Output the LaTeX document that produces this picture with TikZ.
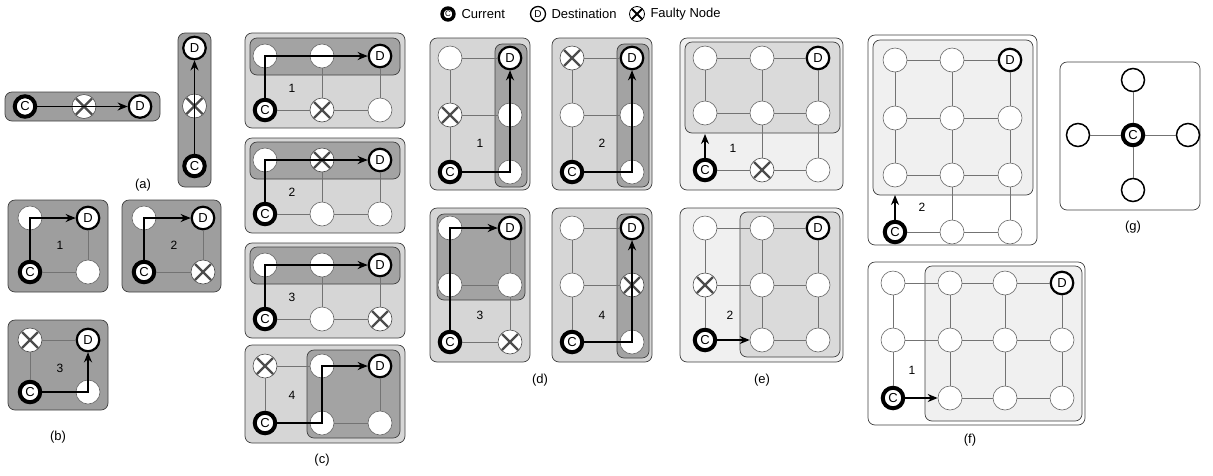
\documentclass[tikz,border=0pt]{standalone}
\usepackage{fontspec}
\setmainfont{Liberation Sans}
\usetikzlibrary{arrows.meta}
\definecolor{abox}{RGB}{158,158,158}
\definecolor{clight}{RGB}{214,214,214}
\definecolor{cdark}{RGB}{163,163,163}
\definecolor{eout}{RGB}{240,240,240}
\definecolor{ein}{RGB}{218,218,218}
\definecolor{fin}{RGB}{240,240,240}
\tikzset{
 pn/.style={circle, draw=black!60, fill=white, line width=0.6pt, minimum size=24pt, inner sep=0pt},
 cn/.style={circle, draw=black, fill=white, line width=4pt, minimum size=20.5pt, inner sep=0pt, font=\fontsize{13}{13}\selectfont},
 dn/.style={circle, draw=black, fill=white, line width=2.2pt, minimum size=22.5pt, inner sep=0pt, font=\fontsize{13}{13}\selectfont},
 xn/.style={pn, draw=black!70, path picture={\draw[line width=2.4pt]
   ([shift={(-8pt,-8pt)}]path picture bounding box.center) -- ([shift={(8pt,8pt)}]path picture bounding box.center)
   ([shift={(-8pt,8pt)}]path picture bounding box.center) -- ([shift={(8pt,-8pt)}]path picture bounding box.center);}},
 gn/.style={circle, draw=black, fill=white, line width=1.5pt, minimum size=23pt, inner sep=0pt},
 lnk/.style={draw=black!55, line width=0.6pt},
 arr/.style={-{Stealth[length=10pt,width=8pt]}, line width=1.7pt},
 bx/.style={rounded corners=7pt, draw=black!75, line width=0.7pt},
 lab/.style={font=\fontsize{13}{15}\selectfont},
 num/.style={font=\fontsize{12}{14}\selectfont},
 lgt/.style={anchor=west, font=\fontsize{13}{15}\selectfont},
 lgc/.style={circle, draw=black, fill=white, line width=3.4pt, minimum size=12pt, inner sep=0pt, font=\fontsize{8}{8}\selectfont},
 lgd/.style={circle, draw=black, fill=white, line width=1.3pt, minimum size=15pt, inner sep=0pt, font=\fontsize{10}{10}\selectfont},
 lgx/.style={circle, draw=black, fill=white, line width=0.8pt, minimum size=15pt, inner sep=0pt, path picture={\draw[line width=1.8pt]
   ([shift={(-6pt,-6pt)}]path picture bounding box.center) -- ([shift={(6pt,6pt)}]path picture bounding box.center)
   ([shift={(-6pt,6pt)}]path picture bounding box.center) -- ([shift={(6pt,-6pt)}]path picture bounding box.center);}},
}
\begin{document}
\begin{tikzpicture}[x=1pt,y=-1pt]
\useasboundingbox (0,0) rectangle (1213,475);

% legend
\node[lgc] (lc) at (448,14) {C};
\node[lgt] (lct) at (458,14) {Current};
\node[lgd] (ld) at (538,14) {D};
\node[lgt] (ldt) at (548,14) {Destination};
\node[lgx] (lx) at (637,14) {};
\node[lgt] (lxt) at (647,14) {Faulty Node};

% (a)
\filldraw[bx, fill=abox] (5,92) rectangle (160,121);
\node[cn] (ahc) at (25,106.5) {C};
\node[xn] (ahx) at (84,106.5) {};
\node[dn] (ahd) at (140,106.5) {D};
\draw[arr] (ahc) -- (ahd);
\filldraw[bx, fill=abox] (178,33) rectangle (211,187);
\node[dn] (avd) at (194.5,48) {D};
\node[xn] (avx) at (194.5,106) {};
\node[cn] (avc) at (194.5,166) {C};
\draw[arr] (avc) -- (avd);
\node[lab] (la) at (143,185) {(a)};

% (b)
\filldraw[bx, fill=abox] (8,200) rectangle (108,292);
\node[pn] (b1a) at (30,218) {};
\node[dn] (b1d) at (88,218) {D};
\node[cn] (b1c) at (30,272) {C};
\node[pn] (b1b) at (88,272) {};
\foreach \u/\v in {b1a/b1d,b1d/b1b,b1c/b1b,b1a/b1c} \draw[lnk] (\u) -- (\v);
\draw[arr] (b1c) |- (b1d);
\node[num] (b1n) at (60,245) {1};

\filldraw[bx, fill=abox] (122,200) rectangle (221,292);
\node[pn] (b2a) at (144,218) {};
\node[dn] (b2d) at (203,218) {D};
\node[cn] (b2c) at (144,272) {C};
\node[xn] (b2x) at (203,272) {};
\foreach \u/\v in {b2a/b2d,b2d/b2x,b2c/b2x,b2a/b2c} \draw[lnk] (\u) -- (\v);
\draw[arr] (b2c) |- (b2d);
\node[num] (b2n) at (174,245) {2};

\filldraw[bx, fill=abox] (8,320) rectangle (108,410);
\node[xn] (b3x) at (30,340) {};
\node[dn] (b3d) at (88,340) {D};
\node[cn] (b3c) at (30,392) {C};
\node[pn] (b3b) at (88,392) {};
\foreach \u/\v in {b3x/b3d,b3d/b3b,b3c/b3b,b3x/b3c} \draw[lnk] (\u) -- (\v);
\draw[arr] (b3c) -| (b3d);
\node[num] (b3n) at (60,368) {3};
\node[lab] (lb) at (58,437) {(b)};

% (c)
\filldraw[bx, fill=clight] (245,33) rectangle (405,128);
\filldraw[bx, fill=cdark] (250,38) rectangle (400,75);
\node[pn] (c1a) at (265,56) {};
\node[pn] (c1b) at (322,56) {};
\node[dn] (c1d) at (380,56) {D};
\node[cn] (c1c) at (265,110) {C};
\node[xn] (c1x) at (322,110) {};
\node[pn] (c1e) at (380,110) {};
\foreach \u/\v in {c1a/c1b,c1b/c1d,c1c/c1x,c1x/c1e,c1a/c1c,c1b/c1x,c1d/c1e} \draw[lnk] (\u) -- (\v);
\draw[arr] (c1c) |- (c1d);
\node[num] (c1n) at (292,88) {1};

\filldraw[bx, fill=clight] (245,138) rectangle (405,233);
\filldraw[bx, fill=cdark] (250,142) rectangle (400,179);
\node[pn] (c2a) at (265,160) {};
\node[xn] (c2x) at (322,160) {};
\node[dn] (c2d) at (380,160) {D};
\node[cn] (c2c) at (265,214) {C};
\node[pn] (c2f) at (322,214) {};
\node[pn] (c2e) at (380,214) {};
\foreach \u/\v in {c2a/c2x,c2x/c2d,c2c/c2f,c2f/c2e,c2a/c2c,c2x/c2f,c2d/c2e} \draw[lnk] (\u) -- (\v);
\draw[arr] (c2c) |- (c2d);
\node[num] (c2n) at (292,192) {2};

\filldraw[bx, fill=clight] (245,243) rectangle (405,338);
\filldraw[bx, fill=cdark] (250,247) rectangle (400,284);
\node[pn] (c3a) at (265,265) {};
\node[pn] (c3b) at (322,265) {};
\node[dn] (c3d) at (380,265) {D};
\node[cn] (c3c) at (265,319) {C};
\node[pn] (c3f) at (322,319) {};
\node[xn] (c3x) at (380,319) {};
\foreach \u/\v in {c3a/c3b,c3b/c3d,c3c/c3f,c3f/c3x,c3a/c3c,c3b/c3f,c3d/c3x} \draw[lnk] (\u) -- (\v);
\draw[arr] (c3c) |- (c3d);
\node[num] (c3n) at (292,297) {3};

\filldraw[bx, fill=clight] (245,345) rectangle (405,443);
\filldraw[bx, fill=cdark] (307,350) rectangle (400,438);
\node[xn] (c4x) at (265,366) {};
\node[pn] (c4b) at (322,366) {};
\node[dn] (c4d) at (380,366) {D};
\node[cn] (c4c) at (265,423) {C};
\node[pn] (c4f) at (322,423) {};
\node[pn] (c4e) at (380,423) {};
\foreach \u/\v in {c4x/c4b,c4b/c4d,c4c/c4f,c4f/c4e,c4x/c4c,c4b/c4f,c4d/c4e} \draw[lnk] (\u) -- (\v);
\draw[arr] (c4c) -| (c4b.center) -- (c4d);
\node[num] (c4n) at (292,395) {4};
\node[lab] (lcc) at (322,460) {(c)};

% (d)
\filldraw[bx, fill=clight] (430,38) rectangle (530,190);
\filldraw[bx, fill=cdark] (495,44) rectangle (527,187);
\node[pn] (d1a) at (450,58) {};
\node[dn] (d1d) at (510,58) {D};
\node[xn] (d1x) at (450,115) {};
\node[pn] (d1b) at (510,115) {};
\node[cn] (d1c) at (450,172) {C};
\node[pn] (d1e) at (510,172) {};
\foreach \u/\v in {d1a/d1d,d1x/d1b,d1c/d1e,d1a/d1x,d1x/d1c,d1d/d1b,d1b/d1e} \draw[lnk] (\u) -- (\v);
\draw[arr] (d1c) -| (d1d);
\node[num] (d1n) at (480,143) {1};

\filldraw[bx, fill=clight] (552,38) rectangle (652,190);
\filldraw[bx, fill=cdark] (617,44) rectangle (649,187);
\node[xn] (d2x) at (572,58) {};
\node[dn] (d2d) at (632,58) {D};
\node[pn] (d2a) at (572,115) {};
\node[pn] (d2b) at (632,115) {};
\node[cn] (d2c) at (572,172) {C};
\node[pn] (d2e) at (632,172) {};
\foreach \u/\v in {d2x/d2d,d2a/d2b,d2c/d2e,d2x/d2a,d2a/d2c,d2d/d2b,d2b/d2e} \draw[lnk] (\u) -- (\v);
\draw[arr] (d2c) -| (d2d);
\node[num] (d2n) at (602,143) {2};

\filldraw[bx, fill=clight] (430,208) rectangle (530,362);
\filldraw[bx, fill=cdark] (437,214) rectangle (525,300);
\node[pn] (d3a) at (450,228) {};
\node[dn] (d3d) at (510,228) {D};
\node[pn] (d3f) at (450,285) {};
\node[pn] (d3b) at (510,285) {};
\node[cn] (d3c) at (450,342) {C};
\node[xn] (d3x) at (510,342) {};
\foreach \u/\v in {d3a/d3d,d3f/d3b,d3c/d3x,d3a/d3f,d3f/d3c,d3d/d3b,d3b/d3x} \draw[lnk] (\u) -- (\v);
\draw[arr] (d3c) |- (d3d);
\node[num] (d3n) at (480,315) {3};

\filldraw[bx, fill=clight] (552,208) rectangle (652,362);
\filldraw[bx, fill=cdark] (617,214) rectangle (649,358);
\node[pn] (d4a) at (572,228) {};
\node[dn] (d4d) at (632,228) {D};
\node[pn] (d4f) at (572,285) {};
\node[xn] (d4x) at (632,285) {};
\node[cn] (d4c) at (572,342) {C};
\node[pn] (d4e) at (632,342) {};
\foreach \u/\v in {d4a/d4d,d4f/d4x,d4c/d4e,d4a/d4f,d4f/d4c,d4d/d4x,d4x/d4e} \draw[lnk] (\u) -- (\v);
\draw[arr] (d4c) -| (d4d);
\node[num] (d4n) at (602,315) {4};
\node[lab] (ld) at (540,380) {(d)};

% (e)
\filldraw[bx, fill=eout] (680,38) rectangle (843,190);
\filldraw[bx, fill=ein] (685,42) rectangle (840,133);
\node[pn] (e1p11) at (705,58) {};
\node[pn] (e1p12) at (762,58) {};
\node[dn] (e1d) at (818,58) {D};
\node[pn] (e1p21) at (705,113) {};
\node[pn] (e1p22) at (762,113) {};
\node[pn] (e1p23) at (818,113) {};
\node[cn] (e1c) at (705,170) {C};
\node[xn] (e1x) at (762,170) {};
\node[pn] (e1p33) at (818,170) {};
\foreach \u/\v in {e1p11/e1p12,e1p12/e1d,e1p21/e1p22,e1p22/e1p23,e1c/e1x,e1x/e1p33,e1p11/e1p21,e1p12/e1p22,e1p22/e1x,e1d/e1p23,e1p23/e1p33} \draw[lnk] (\u) -- (\v);
\coordinate (e1t) at (705,134);
\draw[arr] (e1c) -- (e1t);
\node[num] (e1n) at (733,148) {1};

\filldraw[bx, fill=eout] (680,208) rectangle (843,362);
\filldraw[bx, fill=ein] (740,212) rectangle (840,357);
\node[pn] (e2p11) at (705,228) {};
\node[pn] (e2p12) at (762,228) {};
\node[dn] (e2d) at (818,228) {D};
\node[xn] (e2x) at (705,285) {};
\node[pn] (e2p22) at (762,285) {};
\node[pn] (e2p23) at (818,285) {};
\node[cn] (e2c) at (705,340) {C};
\node[pn] (e2p32) at (762,340) {};
\node[pn] (e2p33) at (818,340) {};
\foreach \u/\v in {e2p11/e2p12,e2p12/e2d,e2x/e2p22,e2p22/e2p23,e2p32/e2p33,e2p11/e2x,e2x/e2c,e2p12/e2p22,e2p22/e2p32,e2d/e2p23,e2p23/e2p33} \draw[lnk] (\u) -- (\v);
\draw[arr] (e2c) -- (e2p32);
\node[num] (e2n) at (730,315) {2};
\node[lab] (le) at (762,380) {(e)};

% (f)
\draw[bx, fill=white] (868,35) rectangle (1037,245);
\filldraw[bx, fill=fin] (873,40) rectangle (1033,195);
\node[pn] (f1p11) at (895,60) {};
\node[pn] (f1p12) at (952,60) {};
\node[dn] (f1d) at (1010,60) {D};
\node[pn] (f1p21) at (895,118) {};
\node[pn] (f1p22) at (952,118) {};
\node[pn] (f1p23) at (1010,118) {};
\node[pn] (f1p31) at (895,175) {};
\node[pn] (f1p32) at (952,175) {};
\node[pn] (f1p33) at (1010,175) {};
\node[cn] (f1c) at (895,232) {C};
\node[pn] (f1p42) at (952,232) {};
\node[pn] (f1p43) at (1010,232) {};
\foreach \u/\v in {f1p11/f1p12,f1p12/f1d,f1p21/f1p22,f1p22/f1p23,f1p31/f1p32,f1p32/f1p33,f1c/f1p42,f1p42/f1p43,f1p11/f1p21,f1p21/f1p31,f1p12/f1p22,f1p22/f1p32,f1p32/f1p42,f1d/f1p23,f1p23/f1p33,f1p33/f1p43} \draw[lnk] (\u) -- (\v);
\coordinate (f1t) at (895,195);
\draw[arr] (f1c) -- (f1t);
\node[num] (f1n) at (922,207) {2};

\draw[bx, fill=white] (868,262) rectangle (1085,425);
\filldraw[bx, fill=fin] (925,266) rectangle (1082,421);
\node[pn] (f2p11) at (893,283) {};
\node[pn] (f2p12) at (950,283) {};
\node[pn] (f2p13) at (1005,283) {};
\node[dn] (f2d) at (1062,283) {D};
\node[pn] (f2p21) at (893,340) {};
\node[pn] (f2p22) at (950,340) {};
\node[pn] (f2p23) at (1005,340) {};
\node[pn] (f2p24) at (1062,340) {};
\node[cn] (f2c) at (893,398) {C};
\node[pn] (f2p32) at (950,398) {};
\node[pn] (f2p33) at (1005,398) {};
\node[pn] (f2p34) at (1062,398) {};
\foreach \u/\v in {f2p11/f2p12,f2p12/f2p13,f2p13/f2d,f2p21/f2p22,f2p22/f2p23,f2p23/f2p24,f2p32/f2p33,f2p33/f2p34,f2p11/f2p21,f2p21/f2c,f2p12/f2p22,f2p22/f2p32,f2p13/f2p23,f2p23/f2p33,f2d/f2p24,f2p24/f2p34} \draw[lnk] (\u) -- (\v);
\draw[arr] (f2c) -- (f2p32);
\node[num] (f2n) at (912,370) {1};
\node[lab] (lf) at (970,440) {(f)};

% (g)
\draw[bx, fill=white] (1060,62) rectangle (1200,210);
\node[cn] (gc) at (1133,135) {C};
\node[gn] (gt) at (1133,80) {};
\node[gn] (gb) at (1133,190) {};
\node[gn] (gl) at (1078,135) {};
\node[gn] (gr) at (1188,135) {};
\foreach \v in {gt,gb,gl,gr} \draw[lnk] (gc) -- (\v);
\node[lab] (lg) at (1133,227) {(g)};
\end{tikzpicture}
\end{document}
